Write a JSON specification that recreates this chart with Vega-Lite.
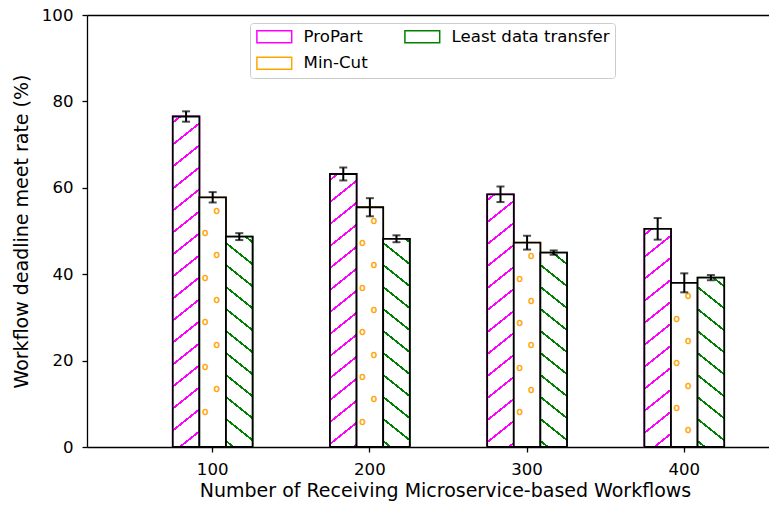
{
  "$schema": "https://vega.github.io/schema/vega-lite/v6.json",
  "autosize": {"type": "none"},
  "width": 682,
  "height": 432,
  "padding": {"left": 87, "top": 15, "right": 0, "bottom": 59},
  "background": "white",
  "data": {"values": [
    {"n": 100, "s": "ProPart", "v": 76.5, "lo": 75.3, "hi": 77.7},
    {"n": 100, "s": "Min-Cut", "v": 57.8, "lo": 56.6, "hi": 59.0},
    {"n": 100, "s": "Least data transfer", "v": 48.7, "lo": 47.9, "hi": 49.5},
    {"n": 200, "s": "ProPart", "v": 63.2, "lo": 61.7, "hi": 64.7},
    {"n": 200, "s": "Min-Cut", "v": 55.5, "lo": 53.4, "hi": 57.6},
    {"n": 200, "s": "Least data transfer", "v": 48.2, "lo": 47.4, "hi": 49.0},
    {"n": 300, "s": "ProPart", "v": 58.5, "lo": 56.7, "hi": 60.3},
    {"n": 300, "s": "Min-Cut", "v": 47.3, "lo": 45.7, "hi": 48.9},
    {"n": 300, "s": "Least data transfer", "v": 45.0, "lo": 44.5, "hi": 45.5},
    {"n": 400, "s": "ProPart", "v": 50.5, "lo": 48.0, "hi": 53.0},
    {"n": 400, "s": "Min-Cut", "v": 38.0, "lo": 35.8, "hi": 40.2},
    {"n": 400, "s": "Least data transfer", "v": 39.2, "lo": 38.6, "hi": 39.8}
  ]},
  "resolve": {"axis": {"x": "independent"}},
  "layer": [
    {
      "mark": {"type": "bar", "fill": "white", "strokeWidth": 1.8},
      "encoding": {
        "x": {"field": "n", "type": "ordinal", "scale": {"paddingInner": 0, "paddingOuter": 0.1692, "align": 0.885}, "axis": null},
        "xOffset": {"field": "s", "type": "nominal", "sort": ["ProPart", "Min-Cut", "Least data transfer"], "scale": {"paddingInner": 0, "paddingOuter": 0, "range": [38.7, 118.5]}},
        "y": {"field": "v", "type": "quantitative", "scale": {"domain": [0, 100], "nice": false}, "title": "Workflow deadline meet rate (%)", "axis": {"values": [0, 20, 40, 60, 80, 100]}},
        "stroke": {
          "field": "s", "type": "nominal",
          "scale": {"domain": ["ProPart", "Min-Cut", "Least data transfer"], "range": ["#ff00ff", "#ffa500", "#008000"]},
          "legend": {
            "title": null, "orient": "none", "legendX": 163, "legendY": 8, "columns": 2,
            "symbolType": "M-2.9,-1H2.9V1H-2.9Z", "symbolSize": 144, "symbolStrokeWidth": 1.5,
            "symbolOffset": 11, "labelOffset": 21, "labelFontSize": 16.6, "labelColor": "black", "labelFont": "DejaVu Sans", "labelLimit": 400,
            "columnPadding": 33, "rowPadding": 8, "padding": 5,
            "strokeColor": "#cccccc", "fillColor": "white", "cornerRadius": 3,
            "encode": {"symbols": {"update": {"fill": {"signal": "datum.value === 'ProPart' ? {gradient: 'linear', x1: 0, y1: 0, x2: 1.2068, y2: 0.5202, stops: [{offset: 0.0201, color: '#fff'}, {offset: 0.0201, color: 'magenta'}, {offset: 0.0803, color: 'magenta'}, {offset: 0.0803, color: '#fff'}, {offset: 0.5723, color: '#fff'}, {offset: 0.5723, color: 'magenta'}, {offset: 0.6325, color: 'magenta'}, {offset: 0.6325, color: '#fff'}]} : datum.value === 'Least data transfer' ? {gradient: 'linear', x1: 0, y1: 1, x2: 1.2068, y2: 0.4798, stops: [{offset: 0.4719, color: '#fff'}, {offset: 0.4719, color: 'green'}, {offset: 0.5321, color: 'green'}, {offset: 0.5321, color: '#fff'}]} : '#fff'"}}}}
          }
        }
      }
    },
    {
      "mark": {"type": "bar", "stroke": "black", "strokeWidth": 1.8},
      "encoding": {
        "x": {"field": "n", "type": "ordinal", "scale": {"paddingInner": 0, "paddingOuter": 0.1692, "align": 0.885},
              "axis": {"orient": "bottom", "title": "Number of Receiving Microservice-based Workflows", "labelAngle": 0, "bandPosition": 0.5, "labelBaseline": "alphabetic", "labelPadding": 22, "titleX": 358, "titleY": 49, "titleBaseline": "alphabetic", "titleAlign": "center"}},
        "xOffset": {"field": "s", "type": "nominal", "sort": ["ProPart", "Min-Cut", "Least data transfer"], "scale": {"paddingInner": 0, "paddingOuter": 0, "range": [38.7, 118.5]}},
        "y": {"field": "v", "type": "quantitative", "title": "Workflow deadline meet rate (%)"},
        "fill": {
          "condition": [
            {"test": "datum.s === 'ProPart' && datum.n === 100", "value": {"gradient": "linear", "x1": 0, "y1": 0, "x2": 0.06825, "y2": 1.05998, "stops": [
              {"offset": 0.0136, "color": "#fff"}, {"offset": 0.0136, "color": "magenta"}, {"offset": 0.0205, "color": "magenta"}, {"offset": 0.0205, "color": "#fff"},
              {"offset": 0.0762, "color": "#fff"}, {"offset": 0.0762, "color": "magenta"}, {"offset": 0.0830, "color": "magenta"}, {"offset": 0.0830, "color": "#fff"},
              {"offset": 0.1387, "color": "#fff"}, {"offset": 0.1387, "color": "magenta"}, {"offset": 0.1456, "color": "magenta"}, {"offset": 0.1456, "color": "#fff"},
              {"offset": 0.2013, "color": "#fff"}, {"offset": 0.2013, "color": "magenta"}, {"offset": 0.2081, "color": "magenta"}, {"offset": 0.2081, "color": "#fff"},
              {"offset": 0.2638, "color": "#fff"}, {"offset": 0.2638, "color": "magenta"}, {"offset": 0.2706, "color": "magenta"}, {"offset": 0.2706, "color": "#fff"},
              {"offset": 0.3264, "color": "#fff"}, {"offset": 0.3264, "color": "magenta"}, {"offset": 0.3332, "color": "magenta"}, {"offset": 0.3332, "color": "#fff"},
              {"offset": 0.3889, "color": "#fff"}, {"offset": 0.3889, "color": "magenta"}, {"offset": 0.3957, "color": "magenta"}, {"offset": 0.3957, "color": "#fff"},
              {"offset": 0.4515, "color": "#fff"}, {"offset": 0.4515, "color": "magenta"}, {"offset": 0.4583, "color": "magenta"}, {"offset": 0.4583, "color": "#fff"},
              {"offset": 0.5140, "color": "#fff"}, {"offset": 0.5140, "color": "magenta"}, {"offset": 0.5208, "color": "magenta"}, {"offset": 0.5208, "color": "#fff"},
              {"offset": 0.5765, "color": "#fff"}, {"offset": 0.5765, "color": "magenta"}, {"offset": 0.5834, "color": "magenta"}, {"offset": 0.5834, "color": "#fff"},
              {"offset": 0.6391, "color": "#fff"}, {"offset": 0.6391, "color": "magenta"}, {"offset": 0.6459, "color": "magenta"}, {"offset": 0.6459, "color": "#fff"},
              {"offset": 0.7016, "color": "#fff"}, {"offset": 0.7016, "color": "magenta"}, {"offset": 0.7085, "color": "magenta"}, {"offset": 0.7085, "color": "#fff"},
              {"offset": 0.7642, "color": "#fff"}, {"offset": 0.7642, "color": "magenta"}, {"offset": 0.7710, "color": "magenta"}, {"offset": 0.7710, "color": "#fff"},
              {"offset": 0.8267, "color": "#fff"}, {"offset": 0.8267, "color": "magenta"}, {"offset": 0.8335, "color": "magenta"}, {"offset": 0.8335, "color": "#fff"},
              {"offset": 0.8893, "color": "#fff"}, {"offset": 0.8893, "color": "magenta"}, {"offset": 0.8961, "color": "magenta"}, {"offset": 0.8961, "color": "#fff"},
              {"offset": 0.9518, "color": "#fff"}, {"offset": 0.9518, "color": "magenta"}, {"offset": 0.9586, "color": "magenta"}, {"offset": 0.9586, "color": "#fff"}
            ]}},
            {"test": "datum.s === 'ProPart' && datum.n === 200", "value": {"gradient": "linear", "x1": 0, "y1": 0, "x2": 0.08351, "y2": 1.07144, "stops": [
              {"offset": 0.0163, "color": "#fff"}, {"offset": 0.0163, "color": "magenta"}, {"offset": 0.0245, "color": "magenta"}, {"offset": 0.0245, "color": "#fff"},
              {"offset": 0.0911, "color": "#fff"}, {"offset": 0.0911, "color": "magenta"}, {"offset": 0.0992, "color": "magenta"}, {"offset": 0.0992, "color": "#fff"},
              {"offset": 0.1658, "color": "#fff"}, {"offset": 0.1658, "color": "magenta"}, {"offset": 0.1740, "color": "magenta"}, {"offset": 0.1740, "color": "#fff"},
              {"offset": 0.2406, "color": "#fff"}, {"offset": 0.2406, "color": "magenta"}, {"offset": 0.2487, "color": "magenta"}, {"offset": 0.2487, "color": "#fff"},
              {"offset": 0.3153, "color": "#fff"}, {"offset": 0.3153, "color": "magenta"}, {"offset": 0.3235, "color": "magenta"}, {"offset": 0.3235, "color": "#fff"},
              {"offset": 0.3901, "color": "#fff"}, {"offset": 0.3901, "color": "magenta"}, {"offset": 0.3982, "color": "magenta"}, {"offset": 0.3982, "color": "#fff"},
              {"offset": 0.4648, "color": "#fff"}, {"offset": 0.4648, "color": "magenta"}, {"offset": 0.4730, "color": "magenta"}, {"offset": 0.4730, "color": "#fff"},
              {"offset": 0.5396, "color": "#fff"}, {"offset": 0.5396, "color": "magenta"}, {"offset": 0.5477, "color": "magenta"}, {"offset": 0.5477, "color": "#fff"},
              {"offset": 0.6143, "color": "#fff"}, {"offset": 0.6143, "color": "magenta"}, {"offset": 0.6225, "color": "magenta"}, {"offset": 0.6225, "color": "#fff"},
              {"offset": 0.6891, "color": "#fff"}, {"offset": 0.6891, "color": "magenta"}, {"offset": 0.6972, "color": "magenta"}, {"offset": 0.6972, "color": "#fff"},
              {"offset": 0.7638, "color": "#fff"}, {"offset": 0.7638, "color": "magenta"}, {"offset": 0.7720, "color": "magenta"}, {"offset": 0.7720, "color": "#fff"},
              {"offset": 0.8386, "color": "#fff"}, {"offset": 0.8386, "color": "magenta"}, {"offset": 0.8467, "color": "magenta"}, {"offset": 0.8467, "color": "#fff"},
              {"offset": 0.9133, "color": "#fff"}, {"offset": 0.9133, "color": "magenta"}, {"offset": 0.9215, "color": "magenta"}, {"offset": 0.9215, "color": "#fff"},
              {"offset": 0.9881, "color": "#fff"}, {"offset": 0.9881, "color": "magenta"}, {"offset": 0.9962, "color": "magenta"}, {"offset": 0.9962, "color": "#fff"}
            ]}},
            {"test": "datum.s === 'ProPart' && datum.n === 300", "value": {"gradient": "linear", "x1": 0, "y1": 0, "x2": 0.09065, "y2": 1.07659, "stops": [
              {"offset": 0.0175, "color": "#fff"}, {"offset": 0.0175, "color": "magenta"}, {"offset": 0.0263, "color": "magenta"}, {"offset": 0.0263, "color": "#fff"},
              {"offset": 0.0978, "color": "#fff"}, {"offset": 0.0978, "color": "magenta"}, {"offset": 0.1066, "color": "magenta"}, {"offset": 0.1066, "color": "#fff"},
              {"offset": 0.1781, "color": "#fff"}, {"offset": 0.1781, "color": "magenta"}, {"offset": 0.1869, "color": "magenta"}, {"offset": 0.1869, "color": "#fff"},
              {"offset": 0.2584, "color": "#fff"}, {"offset": 0.2584, "color": "magenta"}, {"offset": 0.2672, "color": "magenta"}, {"offset": 0.2672, "color": "#fff"},
              {"offset": 0.3387, "color": "#fff"}, {"offset": 0.3387, "color": "magenta"}, {"offset": 0.3475, "color": "magenta"}, {"offset": 0.3475, "color": "#fff"},
              {"offset": 0.4190, "color": "#fff"}, {"offset": 0.4190, "color": "magenta"}, {"offset": 0.4277, "color": "magenta"}, {"offset": 0.4277, "color": "#fff"},
              {"offset": 0.4993, "color": "#fff"}, {"offset": 0.4993, "color": "magenta"}, {"offset": 0.5080, "color": "magenta"}, {"offset": 0.5080, "color": "#fff"},
              {"offset": 0.5796, "color": "#fff"}, {"offset": 0.5796, "color": "magenta"}, {"offset": 0.5883, "color": "magenta"}, {"offset": 0.5883, "color": "#fff"},
              {"offset": 0.6599, "color": "#fff"}, {"offset": 0.6599, "color": "magenta"}, {"offset": 0.6686, "color": "magenta"}, {"offset": 0.6686, "color": "#fff"},
              {"offset": 0.7402, "color": "#fff"}, {"offset": 0.7402, "color": "magenta"}, {"offset": 0.7489, "color": "magenta"}, {"offset": 0.7489, "color": "#fff"},
              {"offset": 0.8204, "color": "#fff"}, {"offset": 0.8204, "color": "magenta"}, {"offset": 0.8292, "color": "magenta"}, {"offset": 0.8292, "color": "#fff"},
              {"offset": 0.9007, "color": "#fff"}, {"offset": 0.9007, "color": "magenta"}, {"offset": 0.9095, "color": "magenta"}, {"offset": 0.9095, "color": "#fff"},
              {"offset": 0.9810, "color": "#fff"}, {"offset": 0.9810, "color": "magenta"}, {"offset": 0.9898, "color": "magenta"}, {"offset": 0.9898, "color": "#fff"}
            ]}},
            {"test": "datum.s === 'ProPart' && datum.n === 400", "value": {"gradient": "linear", "x1": 0, "y1": 0, "x2": 0.10605, "y2": 1.08720, "stops": [
              {"offset": 0.0200, "color": "#fff"}, {"offset": 0.0200, "color": "magenta"}, {"offset": 0.0301, "color": "magenta"}, {"offset": 0.0301, "color": "#fff"},
              {"offset": 0.1119, "color": "#fff"}, {"offset": 0.1119, "color": "magenta"}, {"offset": 0.1220, "color": "magenta"}, {"offset": 0.1220, "color": "#fff"},
              {"offset": 0.2038, "color": "#fff"}, {"offset": 0.2038, "color": "magenta"}, {"offset": 0.2138, "color": "magenta"}, {"offset": 0.2138, "color": "#fff"},
              {"offset": 0.2957, "color": "#fff"}, {"offset": 0.2957, "color": "magenta"}, {"offset": 0.3057, "color": "magenta"}, {"offset": 0.3057, "color": "#fff"},
              {"offset": 0.3876, "color": "#fff"}, {"offset": 0.3876, "color": "magenta"}, {"offset": 0.3976, "color": "magenta"}, {"offset": 0.3976, "color": "#fff"},
              {"offset": 0.4795, "color": "#fff"}, {"offset": 0.4795, "color": "magenta"}, {"offset": 0.4895, "color": "magenta"}, {"offset": 0.4895, "color": "#fff"},
              {"offset": 0.5713, "color": "#fff"}, {"offset": 0.5713, "color": "magenta"}, {"offset": 0.5814, "color": "magenta"}, {"offset": 0.5814, "color": "#fff"},
              {"offset": 0.6632, "color": "#fff"}, {"offset": 0.6632, "color": "magenta"}, {"offset": 0.6732, "color": "magenta"}, {"offset": 0.6732, "color": "#fff"},
              {"offset": 0.7551, "color": "#fff"}, {"offset": 0.7551, "color": "magenta"}, {"offset": 0.7651, "color": "magenta"}, {"offset": 0.7651, "color": "#fff"},
              {"offset": 0.8470, "color": "#fff"}, {"offset": 0.8470, "color": "magenta"}, {"offset": 0.8570, "color": "magenta"}, {"offset": 0.8570, "color": "#fff"},
              {"offset": 0.9389, "color": "#fff"}, {"offset": 0.9389, "color": "magenta"}, {"offset": 0.9489, "color": "magenta"}, {"offset": 0.9489, "color": "#fff"}
            ]}},
            {"test": "datum.s === 'Least data transfer' && datum.n === 100", "value": {"gradient": "linear", "x1": 0, "y1": 1, "x2": 0.11025, "y2": -0.09000, "stops": [
              {"offset": 0.0207, "color": "#fff"}, {"offset": 0.0207, "color": "green"}, {"offset": 0.0311, "color": "green"}, {"offset": 0.0311, "color": "#fff"},
              {"offset": 0.1157, "color": "#fff"}, {"offset": 0.1157, "color": "green"}, {"offset": 0.1261, "color": "green"}, {"offset": 0.1261, "color": "#fff"},
              {"offset": 0.2107, "color": "#fff"}, {"offset": 0.2107, "color": "green"}, {"offset": 0.2210, "color": "green"}, {"offset": 0.2210, "color": "#fff"},
              {"offset": 0.3056, "color": "#fff"}, {"offset": 0.3056, "color": "green"}, {"offset": 0.3160, "color": "green"}, {"offset": 0.3160, "color": "#fff"},
              {"offset": 0.4006, "color": "#fff"}, {"offset": 0.4006, "color": "green"}, {"offset": 0.4110, "color": "green"}, {"offset": 0.4110, "color": "#fff"},
              {"offset": 0.4956, "color": "#fff"}, {"offset": 0.4956, "color": "green"}, {"offset": 0.5059, "color": "green"}, {"offset": 0.5059, "color": "#fff"},
              {"offset": 0.5905, "color": "#fff"}, {"offset": 0.5905, "color": "green"}, {"offset": 0.6009, "color": "green"}, {"offset": 0.6009, "color": "#fff"},
              {"offset": 0.6855, "color": "#fff"}, {"offset": 0.6855, "color": "green"}, {"offset": 0.6959, "color": "green"}, {"offset": 0.6959, "color": "#fff"},
              {"offset": 0.7805, "color": "#fff"}, {"offset": 0.7805, "color": "green"}, {"offset": 0.7908, "color": "green"}, {"offset": 0.7908, "color": "#fff"},
              {"offset": 0.8755, "color": "#fff"}, {"offset": 0.8755, "color": "green"}, {"offset": 0.8858, "color": "green"}, {"offset": 0.8858, "color": "#fff"},
              {"offset": 0.9704, "color": "#fff"}, {"offset": 0.9704, "color": "green"}, {"offset": 0.9808, "color": "green"}, {"offset": 0.9808, "color": "#fff"}
            ]}},
            {"test": "datum.s === 'Least data transfer' && datum.n === 200", "value": {"gradient": "linear", "x1": 0, "y1": 1, "x2": 0.11148, "y2": -0.09081, "stops": [
              {"offset": 0.0209, "color": "#fff"}, {"offset": 0.0209, "color": "green"}, {"offset": 0.0314, "color": "green"}, {"offset": 0.0314, "color": "#fff"},
              {"offset": 0.1168, "color": "#fff"}, {"offset": 0.1168, "color": "green"}, {"offset": 0.1272, "color": "green"}, {"offset": 0.1272, "color": "#fff"},
              {"offset": 0.2126, "color": "#fff"}, {"offset": 0.2126, "color": "green"}, {"offset": 0.2231, "color": "green"}, {"offset": 0.2231, "color": "#fff"},
              {"offset": 0.3085, "color": "#fff"}, {"offset": 0.3085, "color": "green"}, {"offset": 0.3190, "color": "green"}, {"offset": 0.3190, "color": "#fff"},
              {"offset": 0.4044, "color": "#fff"}, {"offset": 0.4044, "color": "green"}, {"offset": 0.4148, "color": "green"}, {"offset": 0.4148, "color": "#fff"},
              {"offset": 0.5002, "color": "#fff"}, {"offset": 0.5002, "color": "green"}, {"offset": 0.5107, "color": "green"}, {"offset": 0.5107, "color": "#fff"},
              {"offset": 0.5961, "color": "#fff"}, {"offset": 0.5961, "color": "green"}, {"offset": 0.6066, "color": "green"}, {"offset": 0.6066, "color": "#fff"},
              {"offset": 0.6920, "color": "#fff"}, {"offset": 0.6920, "color": "green"}, {"offset": 0.7024, "color": "green"}, {"offset": 0.7024, "color": "#fff"},
              {"offset": 0.7878, "color": "#fff"}, {"offset": 0.7878, "color": "green"}, {"offset": 0.7983, "color": "green"}, {"offset": 0.7983, "color": "#fff"},
              {"offset": 0.8837, "color": "#fff"}, {"offset": 0.8837, "color": "green"}, {"offset": 0.8941, "color": "green"}, {"offset": 0.8941, "color": "#fff"},
              {"offset": 0.9795, "color": "#fff"}, {"offset": 0.9795, "color": "green"}, {"offset": 0.9900, "color": "green"}, {"offset": 0.9900, "color": "#fff"}
            ]}},
            {"test": "datum.s === 'Least data transfer' && datum.n === 300", "value": {"gradient": "linear", "x1": 0, "y1": 1, "x2": 0.12001, "y2": -0.09634, "stops": [
              {"offset": 0.0223, "color": "#fff"}, {"offset": 0.0223, "color": "green"}, {"offset": 0.0334, "color": "green"}, {"offset": 0.0334, "color": "#fff"},
              {"offset": 0.1243, "color": "#fff"}, {"offset": 0.1243, "color": "green"}, {"offset": 0.1354, "color": "green"}, {"offset": 0.1354, "color": "#fff"},
              {"offset": 0.2263, "color": "#fff"}, {"offset": 0.2263, "color": "green"}, {"offset": 0.2374, "color": "green"}, {"offset": 0.2374, "color": "#fff"},
              {"offset": 0.3283, "color": "#fff"}, {"offset": 0.3283, "color": "green"}, {"offset": 0.3394, "color": "green"}, {"offset": 0.3394, "color": "#fff"},
              {"offset": 0.4303, "color": "#fff"}, {"offset": 0.4303, "color": "green"}, {"offset": 0.4414, "color": "green"}, {"offset": 0.4414, "color": "#fff"},
              {"offset": 0.5323, "color": "#fff"}, {"offset": 0.5323, "color": "green"}, {"offset": 0.5434, "color": "green"}, {"offset": 0.5434, "color": "#fff"},
              {"offset": 0.6343, "color": "#fff"}, {"offset": 0.6343, "color": "green"}, {"offset": 0.6454, "color": "green"}, {"offset": 0.6454, "color": "#fff"},
              {"offset": 0.7363, "color": "#fff"}, {"offset": 0.7363, "color": "green"}, {"offset": 0.7474, "color": "green"}, {"offset": 0.7474, "color": "#fff"},
              {"offset": 0.8383, "color": "#fff"}, {"offset": 0.8383, "color": "green"}, {"offset": 0.8494, "color": "green"}, {"offset": 0.8494, "color": "#fff"},
              {"offset": 0.9403, "color": "#fff"}, {"offset": 0.9403, "color": "green"}, {"offset": 0.9514, "color": "green"}, {"offset": 0.9514, "color": "#fff"}
            ]}},
            {"test": "datum.s === 'Least data transfer' && datum.n === 400", "value": {"gradient": "linear", "x1": 0, "y1": 1, "x2": 0.13926, "y2": -0.10817, "stops": [
              {"offset": 0.0252, "color": "#fff"}, {"offset": 0.0252, "color": "green"}, {"offset": 0.0378, "color": "green"}, {"offset": 0.0378, "color": "#fff"},
              {"offset": 0.1406, "color": "#fff"}, {"offset": 0.1406, "color": "green"}, {"offset": 0.1532, "color": "green"}, {"offset": 0.1532, "color": "#fff"},
              {"offset": 0.2560, "color": "#fff"}, {"offset": 0.2560, "color": "green"}, {"offset": 0.2686, "color": "green"}, {"offset": 0.2686, "color": "#fff"},
              {"offset": 0.3714, "color": "#fff"}, {"offset": 0.3714, "color": "green"}, {"offset": 0.3840, "color": "green"}, {"offset": 0.3840, "color": "#fff"},
              {"offset": 0.4868, "color": "#fff"}, {"offset": 0.4868, "color": "green"}, {"offset": 0.4994, "color": "green"}, {"offset": 0.4994, "color": "#fff"},
              {"offset": 0.6022, "color": "#fff"}, {"offset": 0.6022, "color": "green"}, {"offset": 0.6148, "color": "green"}, {"offset": 0.6148, "color": "#fff"},
              {"offset": 0.7177, "color": "#fff"}, {"offset": 0.7177, "color": "green"}, {"offset": 0.7303, "color": "green"}, {"offset": 0.7303, "color": "#fff"},
              {"offset": 0.8331, "color": "#fff"}, {"offset": 0.8331, "color": "green"}, {"offset": 0.8457, "color": "green"}, {"offset": 0.8457, "color": "#fff"},
              {"offset": 0.9485, "color": "#fff"}, {"offset": 0.9485, "color": "green"}, {"offset": 0.9611, "color": "green"}, {"offset": 0.9611, "color": "#fff"}
            ]}}
          ],
          "value": "white"
        }
      }
    },
    {
      "transform": [{"filter": "datum.s === 'Min-Cut'"}],
      "mark": {"type": "text", "clip": true, "align": "left", "baseline": "top", "dx": 0.8, "dy": 8.6, "fontSize": 10.5, "lineHeight": 44.6, "color": "#ffa500", "stroke": "#ffa500", "strokeWidth": 0.5, "font": "DejaVu Sans"},
      "encoding": {
        "x": {"field": "n", "type": "ordinal", "scale": {"paddingInner": 0, "paddingOuter": 0.1692, "align": 0.885},
              "axis": {"orient": "top", "labels": false, "ticks": false, "title": null, "domain": true, "domainColor": "black", "domainWidth": 1.3}},
        "xOffset": {"field": "s", "type": "nominal", "sort": ["ProPart", "Min-Cut", "Least data transfer"], "scale": {"paddingInner": 0, "paddingOuter": 0, "range": [38.7, 118.5]}},
        "y": {"field": "v", "type": "quantitative", "title": "Workflow deadline meet rate (%)"},
        "text": {"condition": [
            {"test": "datum.n === 300 || datum.n === 400", "value": ["o", "o", "o", "o"]}
          ],
          "value": ["o", "o", "o", "o", "o"]}
      }
    },
    {
      "transform": [{"filter": "datum.s === 'Min-Cut'"}],
      "mark": {"type": "text", "clip": true, "align": "left", "baseline": "top", "dx": -10.7, "dy": 30.9, "fontSize": 10.5, "lineHeight": 44.6, "color": "#ffa500", "stroke": "#ffa500", "strokeWidth": 0.5, "font": "DejaVu Sans"},
      "encoding": {
        "x": {"field": "n", "type": "ordinal", "scale": {"paddingInner": 0, "paddingOuter": 0.1692, "align": 0.885}, "axis": null},
        "xOffset": {"field": "s", "type": "nominal", "sort": ["ProPart", "Min-Cut", "Least data transfer"], "scale": {"paddingInner": 0, "paddingOuter": 0, "range": [38.7, 118.5]}},
        "y": {"field": "v", "type": "quantitative", "title": "Workflow deadline meet rate (%)"},
        "text": {"condition": [
            {"test": "datum.n === 300", "value": ["o", "o", "o", "o"]},
            {"test": "datum.n === 400", "value": ["o", "o", "o"]}
          ],
          "value": ["o", "o", "o", "o", "o"]}
      }
    },
    {
      "mark": {"type": "rule", "color": "black", "strokeWidth": 2},
      "encoding": {
        "x": {"field": "n", "type": "ordinal", "scale": {"paddingInner": 0, "paddingOuter": 0.1692, "align": 0.885}, "axis": null},
        "xOffset": {"field": "s", "type": "nominal", "sort": ["ProPart", "Min-Cut", "Least data transfer"], "scale": {"paddingInner": 0, "paddingOuter": 0, "range": [38.7, 118.5]}},
        "y": {"field": "lo", "type": "quantitative", "title": "Workflow deadline meet rate (%)"},
        "y2": {"field": "hi"}
      }
    },
    {
      "mark": {"type": "tick", "color": "black", "thickness": 2, "size": 8},
      "encoding": {
        "x": {"field": "n", "type": "ordinal", "scale": {"paddingInner": 0, "paddingOuter": 0.1692, "align": 0.885}, "axis": null},
        "xOffset": {"field": "s", "type": "nominal", "sort": ["ProPart", "Min-Cut", "Least data transfer"], "scale": {"paddingInner": 0, "paddingOuter": 0, "range": [38.7, 118.5]}},
        "y": {"field": "lo", "type": "quantitative", "title": "Workflow deadline meet rate (%)"}
      }
    },
    {
      "mark": {"type": "tick", "color": "black", "thickness": 2, "size": 8},
      "encoding": {
        "x": {"field": "n", "type": "ordinal", "scale": {"paddingInner": 0, "paddingOuter": 0.1692, "align": 0.885}, "axis": null},
        "xOffset": {"field": "s", "type": "nominal", "sort": ["ProPart", "Min-Cut", "Least data transfer"], "scale": {"paddingInner": 0, "paddingOuter": 0, "range": [38.7, 118.5]}},
        "y": {"field": "hi", "type": "quantitative", "title": "Workflow deadline meet rate (%)"}
      }
    }
  ],
  "config": {
    "font": "DejaVu Sans",
    "view": {"stroke": null},
    "axis": {"grid": false, "domainColor": "black", "domainWidth": 1.3, "tickColor": "black", "tickWidth": 1.3, "tickSize": 5,
             "labelColor": "black", "labelFontSize": 16.6, "labelFont": "DejaVu Sans", "titleColor": "black", "titleFontSize": 19, "titleFontWeight": "normal", "titleFont": "DejaVu Sans"},
    "axisY": {"labelPadding": 9, "titleX": -60, "titleY": 216, "titleBaseline": "alphabetic", "titleAlign": "center", "titleAngle": -90}
  }
}
